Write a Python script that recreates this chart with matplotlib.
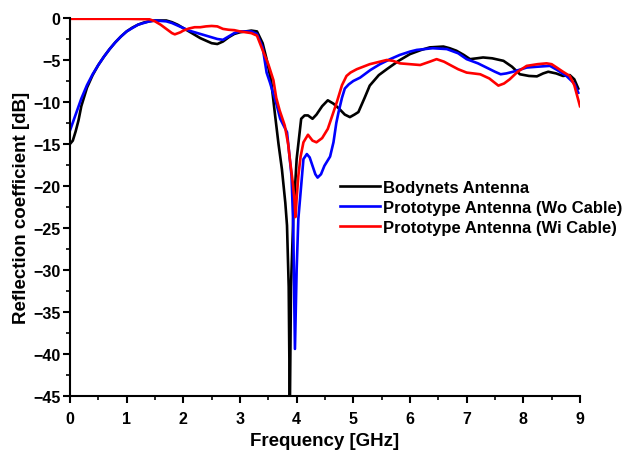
import numpy as np
import matplotlib
matplotlib.use('Agg')
import matplotlib.pyplot as plt
from matplotlib.ticker import MultipleLocator

plt.rcParams['font.family'] = ['Liberation Sans', 'DejaVu Sans']
plt.rcParams['font.weight'] = 'bold'

# Bodynets antenna
f_body = [0, 0.05, 0.1, 0.15, 0.2, 0.3, 0.4, 0.5, 0.6, 0.7, 0.8, 0.9, 1.0, 1.1, 1.2,
          1.3, 1.4, 1.5, 1.6, 1.7, 1.8, 1.9, 2.0, 2.1, 2.2, 2.3, 2.4, 2.5, 2.6, 2.7,
          2.8, 2.9, 3.0, 3.1, 3.2, 3.3, 3.4, 3.47, 3.55, 3.62, 3.68, 3.74, 3.8, 3.83,
          3.86, 3.88, 3.9, 3.94, 4.0, 4.08, 4.14, 4.2, 4.28, 4.35, 4.45, 4.55, 4.65,
          4.75, 4.85, 4.94, 5.02, 5.09, 5.2, 5.29, 5.45, 5.59, 5.8, 6.0, 6.2, 6.35,
          6.59, 6.7, 6.82, 6.95, 7.06, 7.18, 7.29, 7.45, 7.65, 7.8, 7.94, 8.1, 8.24,
          8.35, 8.44, 8.58, 8.7, 8.82, 8.9, 8.97]
s_body = [-15.0, -14.6, -13.5, -12.2, -10.5, -8.3, -6.8, -5.6, -4.6, -3.7, -2.9, -2.2,
          -1.6, -1.15, -0.8, -0.55, -0.4, -0.3, -0.3, -0.3, -0.5, -0.8, -1.2, -1.6,
          -2.0, -2.4, -2.7, -3.0, -3.1, -2.8, -2.3, -1.9, -1.7, -1.6, -1.5, -1.6,
          -3.0, -4.9, -7.5, -11.6, -15.0, -18.0, -22.0, -24.7, -32.0, -47.0, -32.0,
          -23.9, -16.8, -12.0, -11.6, -11.6, -12.0, -11.5, -10.5, -9.8, -10.2, -10.8,
          -11.5, -11.8, -11.5, -11.2, -9.5, -8.05, -6.8, -6.1, -5.1, -4.3, -3.8, -3.5,
          -3.4, -3.6, -3.9, -4.4, -4.9, -4.8, -4.7, -4.8, -5.1, -5.8, -6.7, -6.9,
          -6.95, -6.6, -6.4, -6.6, -6.9, -6.8, -7.3, -8.4]

# Prototype antenna without cable
f_wo = [0, 0.1, 0.2, 0.3, 0.4, 0.5, 0.6, 0.7, 0.8, 0.9, 1.0, 1.1, 1.2, 1.3, 1.4, 1.5,
        1.6, 1.7, 1.8, 1.9, 2.0, 2.1, 2.2, 2.3, 2.4, 2.5, 2.6, 2.7, 2.8, 2.9, 3.0, 3.1,
        3.2, 3.3, 3.4, 3.47, 3.53, 3.65, 3.71, 3.83, 3.91, 3.94, 3.97, 4.0, 4.03, 4.12,
        4.18, 4.23, 4.28, 4.33, 4.37, 4.43, 4.49, 4.59, 4.65, 4.7, 4.74, 4.8, 4.85, 4.92,
        5.0, 5.12, 5.3, 5.47, 5.65, 5.82, 6.0, 6.12, 6.4, 6.65, 6.85, 7.0, 7.2, 7.35,
        7.5, 7.6, 7.7, 7.82, 8.06, 8.25, 8.47, 8.6, 8.76, 8.9, 8.97]
s_wo = [-13.4, -11.5, -9.6, -8.0, -6.7, -5.6, -4.6, -3.7, -2.9, -2.2, -1.6, -1.2, -0.8,
        -0.6, -0.4, -0.3, -0.35, -0.4, -0.6, -0.9, -1.2, -1.5, -1.7, -1.9, -2.1, -2.3,
        -2.5, -2.6, -2.2, -1.8, -1.6, -1.6, -1.6, -1.9, -3.5, -6.5, -7.7, -10.4, -12.0,
        -13.6, -18.8, -24.7, -39.4, -30.0, -23.9, -16.8, -16.2, -16.6, -17.6, -18.6,
        -19.0, -18.6, -17.6, -16.5, -14.8, -12.5, -11.2, -9.5, -8.4, -7.9, -7.5, -7.1,
        -6.2, -5.5, -4.9, -4.4, -4.0, -3.8, -3.6, -3.7, -4.2, -4.9, -5.4, -5.9, -6.4,
        -6.7, -6.6, -6.4, -5.9, -5.8, -5.7, -6.2, -6.9, -7.8, -8.9]

# Prototype antenna with cable
f_wi = [0, 0.5, 1.0, 1.4, 1.5, 1.6, 1.7, 1.8, 1.85, 1.95, 2.0, 2.1, 2.2, 2.3, 2.4, 2.5,
        2.6, 2.7, 2.8, 2.9, 3.0, 3.1, 3.2, 3.3, 3.41, 3.5, 3.59, 3.64, 3.7, 3.79, 3.85,
        3.88, 3.93, 3.96, 3.98, 4.0, 4.03, 4.07, 4.12, 4.2, 4.28, 4.35, 4.45, 4.55, 4.62,
        4.71, 4.8, 4.88, 4.95, 5.06, 5.29, 5.59, 5.7, 5.82, 6.0, 6.18, 6.35, 6.47, 6.6,
        6.71, 6.85, 7.0, 7.24, 7.4, 7.56, 7.66, 7.76, 7.9, 8.06, 8.25, 8.41, 8.5, 8.59,
        8.7, 8.82, 8.9, 9.0]
s_wi = [-0.1, -0.1, -0.1, -0.15, -0.4, -0.8, -1.3, -1.8, -1.95, -1.7, -1.5, -1.25, -1.1,
        -1.1, -1.0, -0.95, -1.0, -1.3, -1.4, -1.45, -1.6, -1.7, -1.8, -2.1, -4.0, -5.5,
        -7.4, -9.5, -11.0, -12.8, -15.0, -16.8, -19.5, -21.5, -23.7, -21.5, -18.8, -16.5,
        -14.8, -13.9, -14.6, -14.8, -14.3, -13.2, -11.8, -10.0, -8.0, -6.9, -6.5, -6.1,
        -5.5, -5.0, -5.1, -5.4, -5.5, -5.6, -5.2, -4.9, -5.2, -5.6, -6.1, -6.5, -6.7,
        -7.2, -8.05, -7.8, -7.3, -6.4, -5.7, -5.5, -5.4, -5.5, -5.9, -6.4, -6.9, -8.0,
        -10.5]

fig = plt.figure(figsize=(6.27, 4.52), dpi=100)
ax = fig.add_axes([0.1116, 0.1217, 0.8134, 0.8363])

ax.plot(f_body, s_body, color='black', lw=1.9, label='Bodynets Antenna')
ax.plot(f_wo, s_wo, color='#0000ff', lw=1.9, label='Prototype Antenna (Wo Cable)')
ax.plot(f_wi, s_wi, color='#ff0000', lw=1.9, label='Prototype Antenna (Wi Cable)')

ax.set_xlim(0, 9)
ax.set_ylim(-45, 0)
ax.xaxis.set_major_locator(MultipleLocator(1))
ax.xaxis.set_minor_locator(MultipleLocator(0.5))
ax.yaxis.set_major_locator(MultipleLocator(5))
ax.yaxis.set_minor_locator(MultipleLocator(2.5))

for side in ['top', 'right']:
    ax.spines[side].set_visible(False)
for side in ['left', 'bottom']:
    ax.spines[side].set_linewidth(1.5)

ax.tick_params(which='major', direction='out', length=5, width=1.5, labelsize=11.5)
ax.tick_params(which='minor', direction='out', length=3, width=1.2)
ax.tick_params(axis='x', which='major', pad=6)
ax.tick_params(axis='y', which='major', pad=2)
for lab in ax.get_xticklabels() + ax.get_yticklabels():
    lab.set_fontweight('bold')

ax.set_xlabel('Frequency [GHz]', fontsize=13.5, fontweight='bold', labelpad=4)
ax.set_ylabel('Reflection coefficient [dB]', fontsize=13.5, fontweight='bold',
              labelpad=2)

ax.legend(loc='upper left', bbox_to_anchor=(0.529, 0.572), frameon=False,
          handlelength=2.4, handletextpad=0.2, labelspacing=0.3,
          borderpad=0, borderaxespad=0,
          prop={'weight': 'bold', 'size': 12})

fig.savefig('out.png', dpi=100)
